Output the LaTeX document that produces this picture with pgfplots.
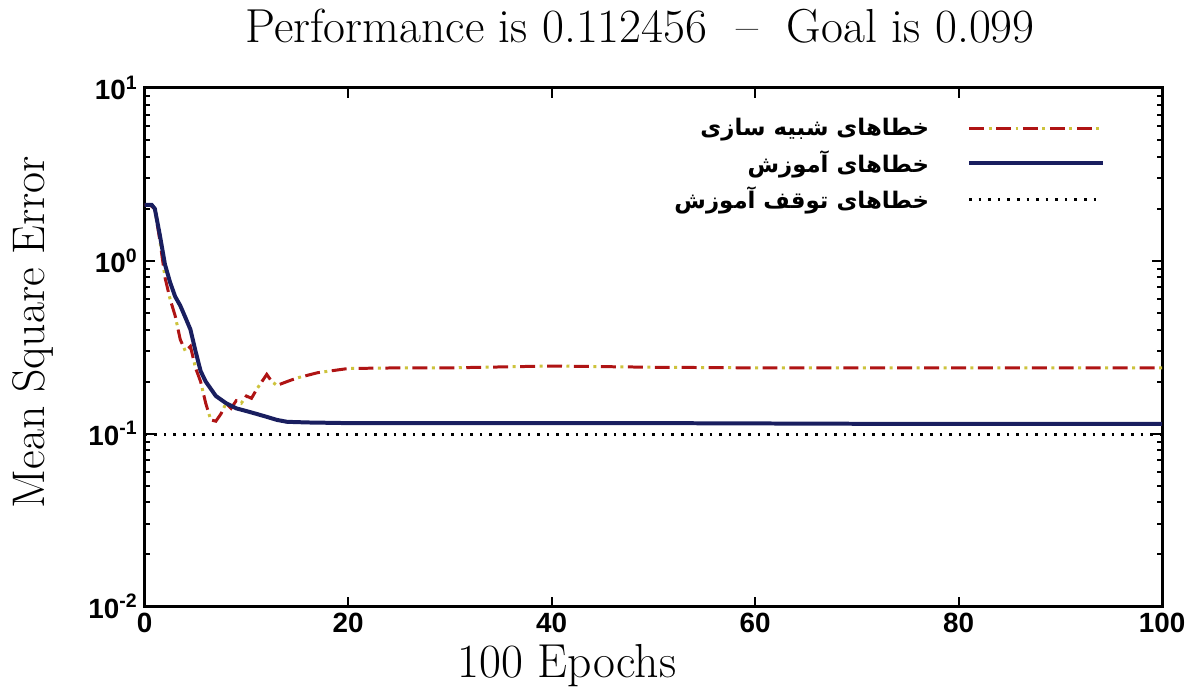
\documentclass[border=0pt]{standalone}
\usepackage{fontspec}
\usepackage{pgfplots}
\pgfplotsset{compat=1.18}
\setsansfont{Liberation Sans}
\newfontfamily\arabicfont[Script=Arabic]{DejaVu Sans}
\TeXXeTstate=1
\definecolor{simred}{RGB}{175,20,20}
\definecolor{dotyel}{RGB}{205,195,60}
\definecolor{trainblue}{RGB}{25,30,95}
\begin{document}
\begin{tikzpicture}
\begin{axis}[
  scale only axis,
  width=510bp, height=260bp,
  ymode=log,
  xmin=0, xmax=100, ymin=0.01, ymax=10,
  xtick={0,20,40,60,80,100},
  xticklabels={0,20,40,60,80,100},
  ytick={0.01,0.1,1,10},
  yticklabels={10\textsuperscript{-2},10\textsuperscript{-1},10\textsuperscript{0},10\textsuperscript{1}},
  tick label style={font=\sffamily\bfseries\fontsize{14}{16}\selectfont},
  major tick length=5bp, minor tick length=2.5bp,
  every tick/.style={black, line width=1bp},
  axis line style={line width=1.5bp},
  title={Performance is 0.112456 \ -- \ Goal is 0.099},
  title style={font=\fontsize{24}{28}\selectfont, at={(axis description cs:0.487,1)}, yshift=16.5bp, anchor=base},
  xlabel={100 Epochs},
  xlabel style={font=\fontsize{24}{28}\selectfont, at={(axis description cs:0.415,0)}, yshift=-35.5bp, anchor=base},
  ylabel={Mean Square Error},
  ylabel style={font=\fontsize{23}{28}\selectfont, at={(axis description cs:0,0.529)}, yshift=50bp, anchor=base},
  legend plot pos=right,
  legend cell align=right,
  legend image code/.code={\draw[#1] (0bp,0bp) -- (67bp,0bp);},
  legend style={at={(axis description cs:0.944,0.95)}, anchor=north east, draw=none, fill=none, inner sep=0pt,
    font=\arabicfont\bfseries\fontsize{11.5}{13}\selectfont, row sep=2bp, column sep=17bp},
]
\addplot[simred, line width=1.5bp, dash pattern=on 7.5bp off 6bp,
  postaction={draw, dotyel, line width=1.5bp, dash pattern=on 1.5bp off 12bp, dash phase=3.75bp}]
  table {
x y
0 2.1
0.5 2.1
1 2.0
1.5 1.3
2 0.8
2.5 0.6
3 0.48
3.5 0.35
4 0.3
4.5 0.32
5 0.24
5.5 0.2
6 0.15
6.5 0.12
7 0.118
7.5 0.13
8 0.15
8.5 0.14
9 0.155
9.5 0.15
10 0.165
10.5 0.16
11 0.18
12 0.22
12.5 0.2
13 0.19
14 0.2
15 0.21
17 0.225
20 0.238
25 0.24
30 0.24
40 0.246
50 0.242
60 0.24
70 0.24
80 0.24
90 0.24
100 0.24
};
\addlegendentry{\beginR خطاهای شبیه سازی\endR}
\addplot[trainblue, line width=2bp] table {
x y
0 2.1
0.7 2.1
1 2.0
1.5 1.4
2 0.95
2.5 0.75
3 0.62
3.5 0.55
4 0.47
4.5 0.4
5 0.3
5.5 0.23
6 0.2
7 0.165
8 0.15
9 0.14
10 0.135
11 0.13
12 0.125
13 0.12
14 0.117
16 0.116
20 0.115
30 0.115
50 0.115
70 0.114
100 0.114
};
\addlegendentry{\beginR خطاهای آموزش\endR}
\addplot[black, line width=1.3bp, dash pattern=on 1.3bp off 3.5bp] table {
x y
0 0.099
100 0.099
};
\addlegendentry{\beginR خطاهای توقف آموزش\endR}
\end{axis}
\path ([shift={(-72.5bp,-44bp)}]current axis.south west) rectangle ([shift={(13.5bp,44bp)}]current axis.north east);
\end{tikzpicture}
\end{document}
